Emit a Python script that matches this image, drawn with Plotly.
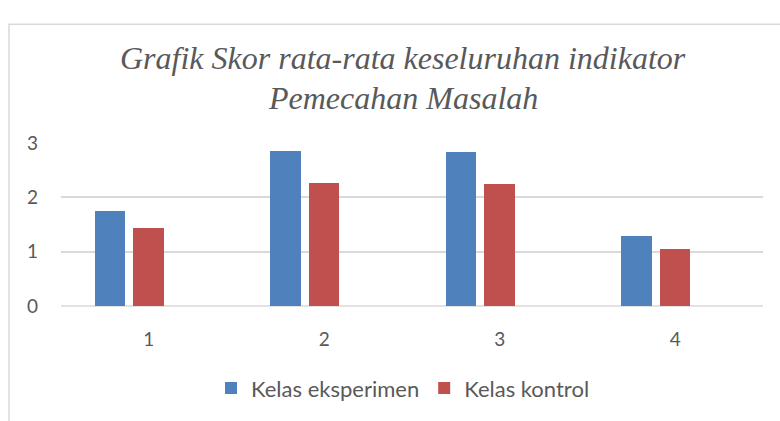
import plotly.graph_objects as go

categories = ["1", "2", "3", "4"]
eksperimen = [1.75, 2.85, 2.83, 1.28]
kontrol = [1.44, 2.26, 2.25, 1.04]
y_ticks = [0, 1, 2, 3]
series_names = ["Kelas eksperimen", "Kelas kontrol"]
title_lines = ["Grafik Skor rata-rata keseluruhan indikator", "Pemecahan Masalah"]

xpos = list(range(1, len(categories) + 1))

W, H = 780, 421
ML, MR, MT, MB = 61, 17, 142.7, 113.3
PW = W - ML - MR
PH = H - MT - MB

def px(x):
    return (x - ML) / PW

def py(y):
    return (H - MB - y) / PH

fig = go.Figure()
fig.add_trace(go.Bar(x=xpos, y=eksperimen, name=series_names[0], width=0.173, offset=-0.307,
                     marker=dict(color="#4F81BD", line=dict(width=0))))
fig.add_trace(go.Bar(x=xpos, y=kontrol, name=series_names[1], width=0.173, offset=-0.087,
                     marker=dict(color="#C0504D", line=dict(width=0))))

text_color = "#595959"
font_sans = "Lato"
font_serif = "Liberation Serif"

fig.update_layout(
    width=W, height=H,
    margin=dict(l=ML, r=MR, t=MT, b=MB, pad=0),
    plot_bgcolor="white", paper_bgcolor="white",
    showlegend=True,
    legend=dict(orientation="h", x=px(211), y=py(391), xanchor="left", yanchor="middle",
                font=dict(family=font_sans, size=22, color=text_color),
                itemwidth=30, tracegroupgap=0, bgcolor="rgba(0,0,0,0)"),
    xaxis=dict(range=[0.5, 4.5], tickvals=xpos, ticktext=categories, showgrid=False,
               zeroline=False, showline=False, ticks="",
               tickfont=dict(family=font_sans, size=19, color=text_color),
               ticklabelstandoff=20),
    yaxis=dict(range=[0, 3], tickvals=y_ticks, showgrid=True, gridcolor="#D9D9D9", gridwidth=1.5,
               zeroline=False, showline=False, ticks="",
               tickfont=dict(family=font_sans, size=19, color=text_color),
               ticklabelstandoff=22),
    bargap=0,
)

fig.add_shape(type="line", xref="paper", yref="paper", x0=0, x1=1, y0=0, y1=0,
              line=dict(color="#D9D9D9", width=1.5), layer="below")

# chart border
fig.add_shape(type="rect", xref="paper", yref="paper", x0=px(9), x1=px(800), y0=py(22.5), y1=py(440),
              line=dict(color="#D9D9D9", width=1.5), layer="below")

for i, yc in enumerate([57, 97]):
    fig.add_annotation(text=title_lines[i], xref="paper", yref="paper", x=px(403), y=py(yc),
                       xanchor="center", yanchor="middle", showarrow=False,
                       font=dict(family=font_serif, size=32, color=text_color, style="italic"))

fig.write_html("out.html", config={"displayModeBar": False},
               post_script="document.body.style.margin='0';")
